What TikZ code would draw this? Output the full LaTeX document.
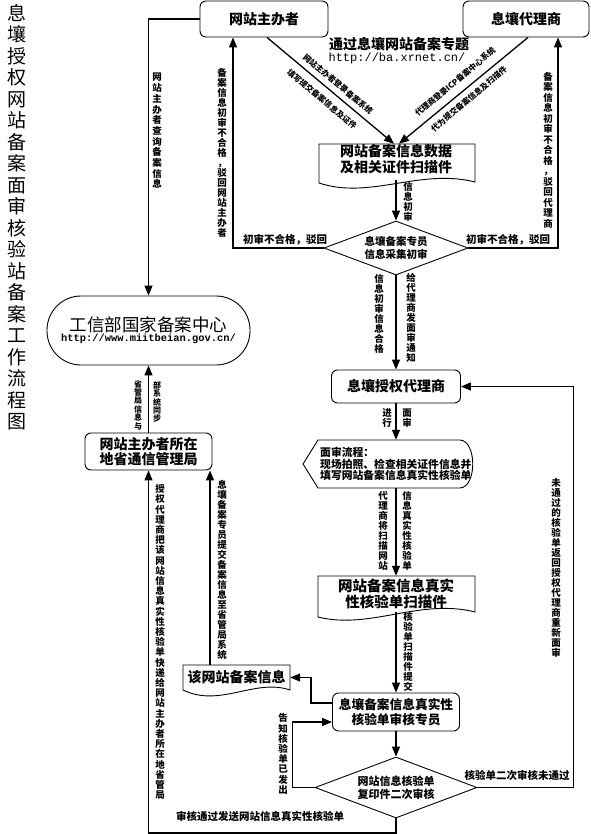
\documentclass[tikz,border=0pt]{standalone}
\usepackage{fontspec}
\setmainfont{Noto Sans CJK SC}
\newfontfamily\monofont{Liberation Mono}
\usetikzlibrary{arrows.meta,shapes.geometric}
\ExplSyntaxOn
\NewDocumentCommand \vstack { O{10pt} m }
  {
    \vbox
      {
        \dim_set:Nn \baselineskip {#1}
        \dim_set:Nn \lineskiplimit {-100pt}
        \tl_map_inline:nn {#2} { \hbox_to_wd:nn {1em} { \hss ##1 \hss } }
      }
  }
\ExplSyntaxOff
\begin{document}
\begin{tikzpicture}[x=1pt,y=-1pt,
  box/.style={draw,line width=0.9pt,rounded corners=6pt,align=center,inner sep=0pt,font=\bfseries\fontsize{14}{15.5}\selectfont},
  shp/.style={draw,line width=0.9pt},
  dia/.style={draw,diamond,aspect=2.67,line width=0.9pt,align=center,inner sep=0pt,font=\bfseries\fontsize{10.5}{12.5}\selectfont},
  txt/.style={align=center,inner sep=0pt,font=\bfseries\fontsize{14}{16}\selectfont},
  arr/.style={line width=1.3pt,-{Triangle[length=10pt,width=8pt]}},
  vl/.style={inner sep=0pt,font=\bfseries\fontsize{9.5}{10}\selectfont},
  hl/.style={inner sep=0pt,font=\bfseries\fontsize{10.5}{11}\selectfont},
  sl/.style={inner sep=0pt,font=\bfseries\fontsize{8}{9}\selectfont},
]
\useasboundingbox (0,0) rectangle (590,834);

% title
\node[inner sep=0pt,anchor=north,font=\fontsize{19}{21}\selectfont] (title) at (17,4) {\vstack[21.5pt]{息壤授权网站备案面审核验站备案工作流程图}};

% boxes
\node[box,minimum width=128pt,minimum height=36pt] (zb) at (264,19) {网站主办者};
\node[box,minimum width=126pt,minimum height=36pt] (dl) at (526,19) {息壤代理商};

\node[inner sep=0pt,align=center,font=\bfseries\fontsize{14}{15}\selectfont] (topt) at (399,44) {通过息壤网站备案专题};
\node[inner sep=0pt,font=\monofont\fontsize{12}{13}\selectfont] (topu) at (397,58) {http://ba.xrnet.cn/};

\draw[shp] (319,144) -- (475,144) -- (475,182) .. controls (420,168) and (370,200) .. (319,183) -- cycle;
\node[txt,minimum width=156pt,minimum height=30pt] (doc1) at (396,159) {网站备案信息数据\\及相关证件扫描件};

\node[dia,minimum width=144pt,minimum height=54pt] (dia1) at (396,248) {息壤备案专员\\信息采集初审};

\node[draw,line width=0.9pt,rounded corners=34pt,minimum width=203pt,minimum height=69pt,align=center,inner sep=0pt] (gx) at (148.5,330.5) {{\fontsize{17.5}{20}\selectfont 工信部国家备案中心}\\[-2pt]{\monofont\bfseries\fontsize{10.4}{11}\selectfont http://www.miitbeian.gov.cn/}};

\node[box,minimum width=127pt,minimum height=37pt] (gl) at (148.5,451.5) {网站主办者所在\\地省通信管理局};

\node[box,minimum width=129pt,minimum height=33pt] (sq) at (396,386.5) {息壤授权代理商};

\draw[shp] (303,464) -- (318,440) -- (460,440) .. controls (477,441) and (477,487) .. (460,488) -- (318,488) -- cycle;
\node[minimum width=172pt,minimum height=48pt,inner sep=0pt] (ms) at (389,464) {};
\node[inner sep=0pt,anchor=west,align=left,font=\bfseries\fontsize{10.8}{11.5}\selectfont] (mstxt) at (320,464) {面审流程：\\现场拍照、检查相关证件信息并\\填写网站备案信息真实性核验单};

\draw[shp] (318,576) -- (475,576) -- (475,612) .. controls (420,598) and (370,630) .. (318,617) -- cycle;
\node[txt,minimum width=157pt,minimum height=36pt,font=\bfseries\fontsize{14.5}{16.5}\selectfont] (doc2) at (396,594) {网站备案信息真实\\性核验单扫描件};

\draw[shp] (183,665) -- (290,665) -- (290,690) .. controls (255,678) and (220,708) .. (183,690) -- cycle;
\node[txt,minimum width=107pt,minimum height=25pt] (doc3) at (236.5,677.5) {该网站备案信息};

\node[box,minimum width=127pt,minimum height=38pt,font=\bfseries\fontsize{12.7}{15}\selectfont] (sh) at (396,712) {息壤备案信息真实性\\核验单审核专员};

\node[dia,minimum width=162pt,minimum height=61pt,font=\bfseries\fontsize{11}{13}\selectfont] (dia2) at (396,787.5) {网站信息核验单\\复印件二次审核};

% connectors
\draw[arr] (zb.west) -| (gx.north);
\draw[arr] ([xshift=3pt]zb.south) -- ([xshift=-2pt]doc1.north);
\draw[arr] ([xshift=2pt]dl.south) -- ([xshift=3pt]doc1.north);
\draw[arr] ([yshift=-6pt]doc1.south) -- (dia1.north);
\draw[arr] (dia1.west) -| ([xshift=-31pt]zb.south);
\draw[arr] (dia1.east) -| ([xshift=32pt]dl.south);
\draw[arr] (dia1.south) -- (sq.north);
\draw[arr] (sq.south) -- (sq.south |- ms.north);
\draw[arr] (sq.south |- ms.south) -- (doc2.north);
\draw[arr] (doc2.south) -- (sh.north);
\draw[arr] (sh.south) -- (dia2.north);
\draw[arr] ([yshift=9pt]sh.west) -- ++(-21,0) |- (doc3.east);
\draw[arr] (dia2.west) -- ++(-22,0) |- ([yshift=-10pt]sh.west);
\draw[arr] (dia2.east) -- ++(96,0) |- (sq.east);
\draw[arr] (dia2.south) -- ++(0,14.5) -| (gl.south);
\coordinate (d3t) at (210,665);
\draw[arr] (d3t) -- (d3t |- gl.south);
\draw[arr] (gl.north) -- (gx.south);

% vertical labels
\node[vl] (l1) at (157,131) {\vstack[10.7pt]{网站主办者查询备案信息}};
\node[vl] (l2) at (222,153) {\vstack[10pt]{备案信息初审不合格，驳回网站主办者}};
\node[vl] (l3) at (548,150) {\vstack[10.5pt]{备案信息初审不合格，驳回代理商}};
\node[vl] (l4) at (408,202) {\vstack[10pt]{信息初审}};
\node[vl] (l5) at (379,314) {\vstack[10pt]{信息初审信息合格}};
\node[vl] (l6) at (411,318) {\vstack[10pt]{给代理商发面审通知}};
\node[vl] (l7a) at (387,418) {\vstack[10pt]{进行}};
\node[vl] (l7b) at (407,418) {\vstack[10pt]{面审}};
\node[vl] (l8a) at (383,531) {\vstack[10pt]{代理商将扫描网站}};
\node[vl] (l8b) at (407,531) {\vstack[10pt]{信息真实性核验单}};
\node[vl] (l9) at (408,652) {\vstack[10pt]{核验单扫描件提交}};
\node[vl] (l10) at (556,568) {\vstack[10pt]{未通过的核验单返回授权代理商重新面审}};
\node[vl] (l11) at (222,570) {\vstack[10pt]{息壤备案专员提交备案信息至省管局系统}};
\node[vl] (l12) at (160,642) {\vstack[10.2pt]{授权代理商把该网站信息真实性核验单快递给网站主办者所在地省管局}};
\node[vl] (l13) at (283,754) {\vstack[10.2pt]{告知核验单已发出}};
\node[vl,font=\bfseries\fontsize{8}{8.5}\selectfont] (l14a) at (138,405) {\vstack[8.4pt]{省管局信息与}};
\node[vl,font=\bfseries\fontsize{8}{8.5}\selectfont] (l14b) at (157,402) {\vstack[8.4pt]{部系统同步}};

% horizontal labels
\node[hl] (h1) at (285,240) {初审不合格，驳回};
\node[hl] (h2) at (508,240) {初审不合格，驳回};
\node[hl] (h3) at (517,775) {核验单二次审核未通过};
\node[hl] (h4) at (260,816) {审核通过发送网站信息真实性核验单};

% diagonal labels
\node[sl,rotate=-40] (s1) at (338,84) {网站主办者登录备案系统};
\node[sl,rotate=-40] (s2) at (322,99) {填写提交备案信息及证件};
\node[sl,rotate=40] (s3) at (455,82) {代理商登录ICP备案中心系统};
\node[sl,rotate=40] (s4) at (469,99) {代为提交备案信息及扫描件};
\end{tikzpicture}
\end{document}
